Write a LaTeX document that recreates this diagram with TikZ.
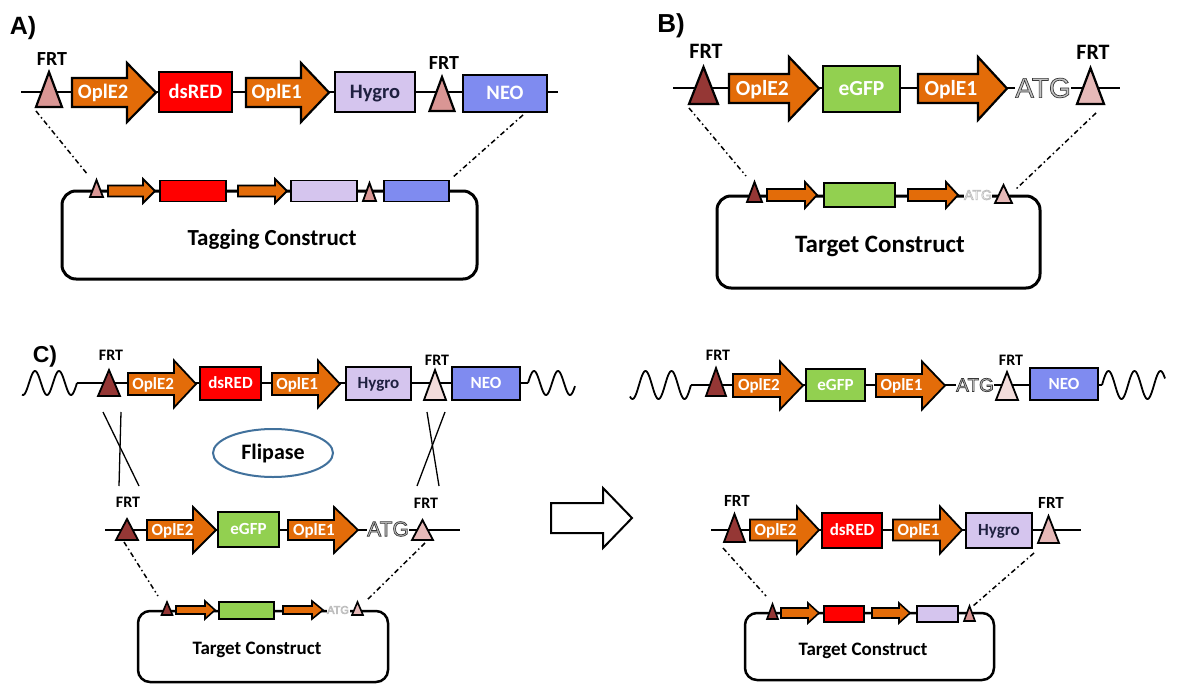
\documentclass[tikz,border=0pt]{standalone}
\usepackage{fontspec}
\setmainfont{Carlito}
\newfontfamily\atgfont{Liberation Sans}
\newfontfamily\panelfont{Liberation Sans}
\usetikzlibrary{shapes.geometric}
\definecolor{orng}{HTML}{E36C09}
\definecolor{rd}{HTML}{FF0000}
\definecolor{lav}{HTML}{D5C5EE}
\definecolor{neo}{HTML}{7F8BF0}
\definecolor{gfp}{HTML}{92D050}
\definecolor{pinkA}{HTML}{D99694}
\definecolor{dkred}{HTML}{953735}
\definecolor{ltpink}{HTML}{E6B9B8}
\definecolor{vltpink}{HTML}{F2DCDB}
\definecolor{flip}{HTML}{41719C}
\definecolor{hyg}{HTML}{1F2040}
\definecolor{atgfill}{HTML}{C4C4C4}
\newcommand\fs[1]{\fontsize{#1}{#1}\selectfont\bfseries}
\newcommand\pf[1]{\panelfont\fontsize{#1}{#1}\selectfont\bfseries}
\tikzset{
 partline/.style={draw=black, line width=2.2pt, line join=miter},
 dna/.style={line width=1.8pt},
 box/.style={partline, inner sep=0pt},
 lbl/.style={inner sep=0pt, text=white},
 frt/.style={inner sep=0pt, text=black, anchor=base},
 dd/.style={line width=1.5pt, dash pattern=on 5pt off 3pt on 1.5pt off 3pt},
 plasmid/.style={draw, line width=3pt, rounded corners=14pt},
 cross/.style={line width=1.3pt},
}
% triangle: cx, apex y, base y, half width, fill
\newcommand\tri[5]{\draw[partline, fill=#5] ({#1-#4},#3) -- (#1,#2) -- ({#1+#4},#3) -- cycle;}
% block arrow: name, x0, xh, x1, yc, half body, half head, label, font size
\newcommand\barr[9]{%
 \draw[partline, fill=orng] (#2,{#5-#6}) -- (#3,{#5-#6}) -- (#3,{#5-#7}) -- (#4,#5) -- (#3,{#5+#7}) -- (#3,{#5+#6}) -- (#2,{#5+#6}) -- cycle;
 \node[lbl, anchor=base, font=\fs{#9}] (#1) at ({#2+0.37*(#4-#2)},{#5+0.316*#9}) {#8};}
% small arrow: x0, xh, x1, yc, half body, half head
\newcommand\sarr[6]{%
 \draw[partline, fill=orng] (#1,{#4-#5}) -- (#2,{#4-#5}) -- (#2,{#4-#6}) -- (#3,#4) -- (#2,{#4+#6}) -- (#2,{#4+#5}) -- (#1,{#4+#5}) -- cycle;}
% box with label: name, cx, cy, w, h, fill, text colour, text, font size
\newcommand\gbox[9]{%
 \node[box, fill=#6, minimum width=#4pt, minimum height=#5pt] (#1) at (#2,#3) {};
 \node[lbl, text=#7, anchor=base, font=\fs{#9}] (#1t) at (#2,{#3+0.316*#9}) {#8};}
% plain box: name, cx, cy, w, h, fill
\newcommand\pbox[6]{\node[box, fill=#6, minimum width=#4pt, minimum height=#5pt] (#1) at (#2,#3) {};}
% FRT label: name, x, y, size
\newcommand\frtl[4]{\node[frt, font=\fs{#4}] (#1) at (#2,{#3+0.316*#4}) {FRT};}
% outlined ATG: name, x, y, size, fill colour, outline grey level
\newcommand\atg[6]{%
 \node[inner sep=0.6pt, fill=white, text=#5, font=\atgfont\fontsize{#4}{#4}\selectfont] (#1) at (#2,#3)
 {\special{pdf:literal direct #6 G 2 Tr 0.7 w}ATG\special{pdf:literal direct 0 Tr}};}
\begin{document}
\begin{tikzpicture}[x=1pt,y=-1pt]
\useasboundingbox[fill=white] (0,0) rectangle (1183,685);

% ================= Panel A =================
\node[anchor=base, font=\pf{25}] (labA) at (23,{26+0.358*25}) {A)};
\coordinate (aL) at (21,92); \coordinate (aR) at (558,92);
\draw[dna] (aL) -- (aR);
\tri{49}{72}{107}{13}{pinkA}
\frtl{frtA1}{52}{59}{20}
\barr{pA1}{72}{127}{156}{92.5}{14.5}{29.5}{OplE2}{20.5}
\gbox{dsA}{195.5}{92}{73}{40}{rd}{white}{dsRED}{20.5}
\barr{pA2}{246}{301}{329}{92.5}{14.5}{29.5}{OplE1}{20.5}
\gbox{hyA}{375}{92}{80}{40}{lav}{hyg}{Hygro}{20.5}
\tri{442}{77}{111}{12.5}{pinkA}
\frtl{frtA2}{444}{63}{20}
\gbox{neoA}{505}{93.5}{84}{37}{neo}{white}{NEO}{20.5}
\coordinate (dA1) at (36,111); \coordinate (dA2) at (88,175);
\coordinate (dA3) at (523,115); \coordinate (dA4) at (452,178);
\draw[dd] (dA1) -- (dA2);
\draw[dd] (dA3) -- (dA4);
\draw[plasmid] (62,191) rectangle (477,279);
\begin{scope}[partline/.append style={line width=1.8pt}]
\tri{96.5}{180}{197}{6.5}{pinkA}
\sarr{108}{143}{155}{191}{5.5}{12}
\pbox{rA}{193}{191}{66}{21}{rd}
\sarr{238}{275}{287}{191}{5.5}{12}
\pbox{lA}{324}{191}{66}{21}{lav}
\tri{369.5}{183}{201}{6.5}{pinkA}
\pbox{bA}{416.5}{191}{65}{21}{neo}
\end{scope}
\node[anchor=base, font=\fs{23}] (tagA) at (272,{238+0.316*23}) {Tagging Construct};

% ================= Panel B =================
\node[anchor=base, font=\pf{26}] (labB) at (671,{23+0.358*26}) {B)};
\coordinate (bL) at (673,88); \coordinate (bR) at (1120,88);
\draw[dna] (bL) -- (bR);
\tri{703.5}{67}{104}{14.5}{dkred}
\frtl{frtB1}{706}{52}{22}
\barr{pB1}{729}{789}{819}{88.5}{14.5}{31.5}{OplE2}{21.5}
\gbox{gB}{861.5}{89}{77}{46}{gfp}{white}{eGFP}{21.5}
\barr{pB2}{918}{978}{1007}{88.5}{14.5}{31.5}{OplE1}{21.5}
\atg{atgB}{1043}{88}{28}{atgfill}{0.22}
\tri{1090.5}{68}{104}{13.5}{ltpink}
\frtl{frtB2}{1093}{53}{22}
\coordinate (dB1) at (689,108); \coordinate (dB2) at (746,176);
\coordinate (dB3) at (1096,113); \coordinate (dB4) at (1015,190);
\draw[dd] (dB1) -- (dB2);
\draw[dd] (dB3) -- (dB4);
\draw[plasmid] (717,196) rectangle (1040,288);
\begin{scope}[partline/.append style={line width=1.8pt}]
\tri{754.5}{182}{202}{7.5}{dkred}
\sarr{767}{805}{817}{195}{6}{13}
\pbox{gB2}{859.5}{195}{71}{24}{gfp}
\sarr{908}{946}{958}{195}{6}{13}
\atg{atgB2}{978}{195}{14}{white}{0.75}
\tri{1003.5}{185}{203}{8.5}{ltpink}
\end{scope}
\node[anchor=base, font=\fs{25}] (tgB) at (880,{245+0.316*25}) {Target Construct};

% ================= Panel C (left) =================
\node[anchor=base, font=\pf{23}] (labC) at (45,{354+0.358*23}) {C)};
\begin{scope}[partline/.append style={line width=1.8pt}]
\draw[dna] plot[domain=22:77, samples=80] (\x,{383-12*sin(15*(\x-29))});
\coordinate (cL) at (77,383); \coordinate (cR) at (528,383);
\draw[dna] (cL) -- (cR);
\draw[dna] plot[domain=528:575, samples=80] (\x,{383-12*sin(15*(\x-528))});
\tri{109}{370}{396}{11}{dkred}
\frtl{frtC1}{111}{355}{16}
\barr{pC1}{128}{174}{196}{384}{11}{23.5}{OplE2}{17}
\gbox{dsC}{230.5}{383.5}{61}{33}{rd}{white}{dsRED}{17}
\barr{pC2}{272}{318}{340}{384}{11}{23.5}{OplE1}{17}
\gbox{hyC}{378.5}{383.5}{65}{33}{lav}{hyg}{Hygro}{17}
\tri{435}{370}{400}{11}{vltpink}
\frtl{frtC2}{437}{360}{16}
\gbox{neoC}{486}{383.5}{68}{33}{neo}{white}{NEO}{17}

% crossing lines
\coordinate (x1a) at (103,412); \coordinate (x1b) at (139,486);
\coordinate (x2a) at (121,412); \coordinate (x2b) at (119,486);
\coordinate (x3a) at (427,412); \coordinate (x3b) at (439,486);
\coordinate (x4a) at (445,412); \coordinate (x4b) at (417,486);
\draw[cross] (x1a) -- (x1b);
\draw[cross] (x2a) -- (x2b);
\draw[cross] (x3a) -- (x3b);
\draw[cross] (x4a) -- (x4b);

\node[ellipse, draw=flip, line width=2pt, minimum width=120pt, minimum height=48pt] (flip) at (273,453) {};
\node[anchor=base, font=\fs{22}] (flipT) at (273,{453+0.316*22}) {Flipase};

% second row
\coordinate (c2L) at (105,530); \coordinate (c2R) at (460,530);
\draw[dna] (c2L) -- (c2R);
\tri{127}{519}{540}{11}{dkred}
\frtl{frtC3}{128}{502}{16}
\barr{pC3}{147}{193}{216}{530}{10}{23}{OplE2}{17}
\gbox{gC}{248.5}{529.5}{61}{35}{gfp}{white}{eGFP}{17}
\barr{pC4}{288}{334}{358}{530}{10}{23}{OplE1}{17}
\atg{atgC}{388}{529}{21}{atgfill}{0.22}
\tri{422.5}{520}{540}{10.5}{ltpink}
\frtl{frtC4}{426}{503}{16}
\end{scope}
\coordinate (dC1) at (124,542); \coordinate (dC2) at (158,596);
\coordinate (dC3) at (425,543); \coordinate (dC4) at (366,601);
\draw[dd] (dC1) -- (dC2);
\draw[dd] (dC3) -- (dC4);
\draw[plasmid, line width=2.5pt, rounded corners=12pt] (138,611) rectangle (388,682);
\begin{scope}[partline/.append style={line width=1.6pt}]
\tri{167}{602}{615}{5.5}{dkred}
\sarr{176}{205}{215}{610}{4}{9}
\pbox{gC2}{246.5}{610.5}{55}{17}{gfp}
\sarr{283}{312}{323}{610}{4}{9}
\atg{atgC2}{338}{610}{11}{white}{0.75}
\tri{357.5}{602}{615}{5.5}{ltpink}
\end{scope}
\node[anchor=base, font=\fs{19}] (tgC) at (257,{648+0.316*19}) {Target Construct};

% big hollow arrow
\draw[line width=2pt, fill=white, line join=miter] (551,503) -- (603,503) -- (603,488) -- (632,518) -- (603,548) -- (603,533) -- (551,533) -- cycle;

% ================= Panel C (right) =================
\begin{scope}[partline/.append style={line width=1.8pt}]
\draw[dna] plot[domain=630:691, samples=80] (\x,{385-14*sin(13.846*(\x-639))});
\coordinate (rL) at (691,385); \coordinate (rR) at (1102,385);
\draw[dna] (rL) -- (rR);
\draw[dna] plot[domain=1102:1165, samples=80] (\x,{385-14*sin(13.846*(\x-1102))});
\tri{716}{368}{396}{10}{dkred}
\frtl{frtR1}{718}{355}{16}
\barr{pR1}{733}{780}{803}{385.5}{11.5}{24}{OplE2}{17}
\gbox{gR}{835.5}{385}{59}{32}{gfp}{white}{eGFP}{17}
\barr{pR2}{876}{922}{945}{385.5}{11.5}{24}{OplE1}{17}
\atg{atgR}{975}{385}{19}{atgfill}{0.22}
\tri{1007}{372}{400}{11}{vltpink}
\frtl{frtR2}{1011}{360}{16}
\gbox{neoR}{1064}{384}{68}{32}{neo}{white}{NEO}{17}

% second row
\coordinate (r2L) at (711,530); \coordinate (r2R) at (1081,530);
\draw[dna] (r2L) -- (r2R);
\tri{734.5}{514}{542}{10.5}{dkred}
\frtl{frtR3}{737}{501}{17}
\barr{pR3}{750}{797}{819}{530}{10.5}{23.5}{OplE2}{17}
\gbox{dsR}{852}{530.5}{60}{35}{rd}{white}{dsRED}{17}
\barr{pR4}{893}{940}{962}{530}{10.5}{23.5}{OplE1}{17}
\gbox{hyR}{999}{530.5}{66}{35}{lav}{hyg}{Hygro}{17}
\tri{1048.5}{516}{543}{10.5}{ltpink}
\frtl{frtR4}{1051}{503}{17}
\end{scope}
\coordinate (dR1) at (723,548); \coordinate (dR2) at (766,596);
\coordinate (dR3) at (1034,553); \coordinate (dR4) at (973,606);
\draw[dd] (dR1) -- (dR2);
\draw[dd] (dR3) -- (dR4);
\draw[plasmid, line width=2.5pt, rounded corners=12pt] (745,613) rectangle (994,680);
\begin{scope}[partline/.append style={line width=1.6pt}]
\tri{772.5}{604}{619}{5.5}{dkred}
\sarr{781}{808}{819}{613}{5}{10}
\pbox{rR2}{844}{614}{40}{16}{rd}
\sarr{872}{899}{910}{613}{5}{10}
\pbox{lR2}{937.5}{614}{41}{16}{lav}
\tri{969.5}{606}{621}{5.5}{pinkA}
\end{scope}
\node[anchor=base, font=\fs{19}] (tgR) at (863,{649+0.316*19}) {Target Construct};
\end{tikzpicture}
\end{document}
